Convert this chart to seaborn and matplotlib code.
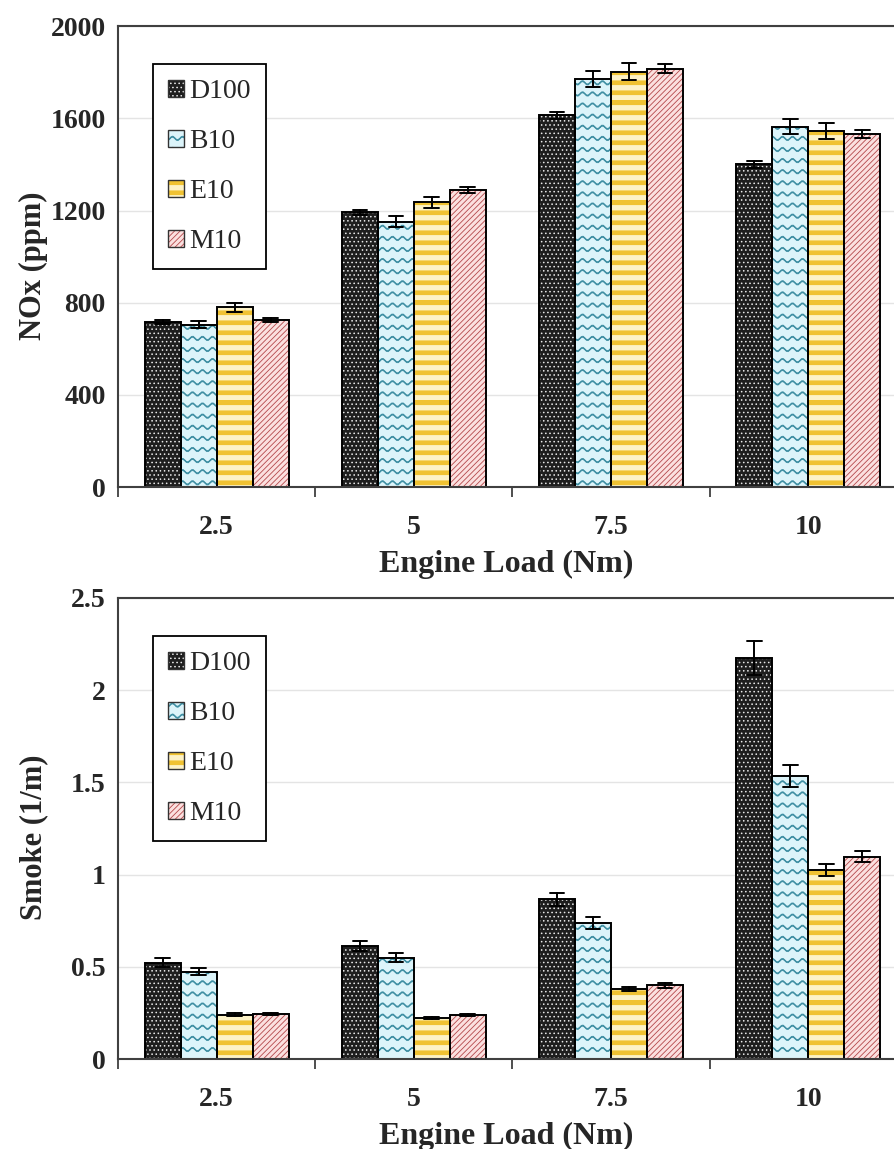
import numpy as np
import pandas as pd
import matplotlib
matplotlib.use("Agg")
import matplotlib.pyplot as plt
import matplotlib.hatch as mhatch
from matplotlib.path import Path
from matplotlib.patches import Patch
from matplotlib.legend_handler import HandlerTuple
from matplotlib.ticker import FixedLocator
import seaborn as sns

loads = ["2.5", "5", "7.5", "10"]
fuels = ["D100", "B10", "E10", "M10"]

# NOx (ppm) and error half-widths
nox_d100 = [715, 1192, 1614, 1400]
nox_b10 = [705, 1152, 1770, 1564]
nox_e10 = [780, 1235, 1803, 1545]
nox_m10 = [725, 1290, 1816, 1531]
nox_err_d100 = [8, 12, 15, 14]
nox_err_b10 = [15, 25, 34, 34]
nox_err_e10 = [20, 25, 35, 33]
nox_err_m10 = [8, 12, 18, 17]

# Smoke (1/m) and error half-widths
smoke_d100 = [0.522, 0.612, 0.866, 2.174]
smoke_b10 = [0.473, 0.549, 0.736, 1.536]
smoke_e10 = [0.241, 0.223, 0.380, 1.026]
smoke_m10 = [0.246, 0.239, 0.399, 1.098]
smoke_err_d100 = [0.024, 0.028, 0.036, 0.09]
smoke_err_b10 = [0.02, 0.024, 0.032, 0.06]
smoke_err_e10 = [0.006, 0.006, 0.013, 0.032]
smoke_err_m10 = [0.006, 0.006, 0.012, 0.032]

face_colors = {"D100": "#1e1e1e", "B10": "#dcf4fa", "E10": "#f0c232", "M10": "#fbe0df"}
hatch_colors = {"D100": "#e8e8e8", "B10": "#3f8fa3", "E10": "#fdf2c6", "M10": "#b4484b"}
hatches = {"D100": "....", "B10": "*", "E10": "O", "M10": "//////"}


# custom hatch patterns: '*' -> wavy lines, 'O' -> wide horizontal stripes
class WaveHatch(mhatch.HatchPatternBase):
    npts = 60

    def __init__(self, hatch, density):
        self.num_lines = hatch.count("*") * 9
        self.num_vertices = self.num_lines * (2 * self.npts + 1)

    def set_vertices_and_codes(self, vertices, codes):
        xs = np.linspace(0, 1, self.npts)
        wave = 0.018 * np.sin(2 * np.pi * 10 * xs)
        k = 2 * self.npts + 1
        for i in range(self.num_lines):
            y0 = (i + 0.5) / self.num_lines
            v = vertices[i * k:(i + 1) * k]
            c = codes[i * k:(i + 1) * k]
            v[:self.npts, 0] = xs
            v[:self.npts, 1] = y0 + wave
            v[self.npts:2 * self.npts, 0] = xs[::-1]
            v[self.npts:2 * self.npts, 1] = y0 + wave[::-1] + 0.010
            v[-1] = v[0]
            c[:] = Path.LINETO
            c[0] = Path.MOVETO
            c[-1] = Path.CLOSEPOLY


class StripeHatch(mhatch.HatchPatternBase):
    def __init__(self, hatch, density):
        self.num_lines = hatch.count("O") * 10
        self.num_vertices = self.num_lines * 5

    def set_vertices_and_codes(self, vertices, codes):
        for i in range(self.num_lines):
            y0 = i / self.num_lines
            y1 = y0 + 0.45 / self.num_lines
            vertices[i * 5:(i + 1) * 5] = [[0, y0], [1, y0], [1, y1], [0, y1], [0, y0]]
            codes[i * 5:(i + 1) * 5] = [Path.MOVETO, Path.LINETO, Path.LINETO,
                                        Path.LINETO, Path.CLOSEPOLY]


mhatch._hatch_types = [t for t in mhatch._hatch_types
                       if t not in (mhatch.Stars, mhatch.LargeCircles)] + [WaveHatch, StripeHatch]

sns.set_style("white")
plt.rcParams["font.family"] = ["Liberation Serif", "DejaVu Serif"]
plt.rcParams["hatch.linewidth"] = 0.6


def long_table(series, errors):
    rows = []
    for fuel, vals, errs in zip(fuels, series, errors):
        for load, v, e in zip(loads, vals, errs):
            rows.append({"load": load, "fuel": fuel, "value": v - e})
            rows.append({"load": load, "fuel": fuel, "value": v + e})
    return pd.DataFrame(rows)


def draw_panel(ax, df, ylim, yticks, ylabel):
    sns.barplot(data=df, x="load", y="value", hue="fuel", order=loads, hue_order=fuels,
                palette=face_colors, saturation=1, errorbar=None, width=0.73,
                linewidth=0, legend=False, ax=ax)
    for cont, fuel in zip(ax.containers, fuels):
        for bar in cont:
            bar.set_hatch(hatches[fuel])
            bar.set_edgecolor(hatch_colors[fuel])
            bar.set_linewidth(0)
    sns.barplot(data=df, x="load", y="value", hue="fuel", order=loads, hue_order=fuels,
                palette={f: "black" for f in fuels}, fill=False, width=0.73, linewidth=1.4,
                errorbar=lambda x: (x.min(), x.max()), capsize=0.3,
                err_kws={"color": "black", "linewidth": 1.4}, legend=False, ax=ax)

    ax.set_ylim(*ylim)
    ax.set_yticks(yticks)
    ax.set_yticklabels([f"{t:g}" for t in yticks])
    ax.set_xlim(-0.5, 3.44)
    ax.yaxis.grid(True, color="#e4e4e4", linewidth=1.0)
    ax.set_axisbelow(True)
    ax.xaxis.set_minor_locator(FixedLocator([-0.5, 0.5, 1.5, 2.5, 3.5]))
    ax.tick_params(axis="x", which="major", length=0, pad=20, labelsize=20)
    ax.tick_params(axis="x", which="minor", length=7, width=1.3, color="#404040",
                   direction="out", bottom=True)
    ax.tick_params(axis="y", length=0, pad=9, labelsize=20)
    for lab in ax.get_xticklabels() + ax.get_yticklabels():
        lab.set_fontweight("bold")
    for side in ["left", "bottom", "top"]:
        ax.spines[side].set_visible(True)
        ax.spines[side].set_color("#404040")
        ax.spines[side].set_linewidth(1.5)
    ax.spines["right"].set_visible(False)

    ax.set_xlabel("Engine Load (Nm)", fontsize=23, fontweight="bold", labelpad=7)
    ax.set_ylabel(ylabel, fontsize=22, fontweight="bold")
    ax.yaxis.set_label_coords(-0.09, 0.48)

    handles = []
    for fuel in fuels:
        fill = Patch(facecolor=face_colors[fuel], edgecolor=hatch_colors[fuel],
                     hatch=hatches[fuel], linewidth=0)
        outline = Patch(facecolor="none", edgecolor="#333333", linewidth=1.0)
        handles.append((fill, outline))
    leg = ax.legend(handles, fuels, handler_map={tuple: HandlerTuple(ndivide=1, pad=0)},
                    loc="upper left", bbox_to_anchor=(0.045, 0.918), fontsize=20,
                    handlelength=0.55, handleheight=0.55, handletextpad=0.2,
                    labelspacing=0.9, borderpad=0.55, borderaxespad=0,
                    fancybox=False, framealpha=1, edgecolor="black")
    leg.get_frame().set_linewidth(1.3)


fig = plt.figure(figsize=(8.95, 11.49), dpi=100)
ax_top = fig.add_axes([0.132, 0.576, 0.868, 0.4013])
ax_bot = fig.add_axes([0.132, 0.0783, 0.868, 0.4013])

nox_df = long_table([nox_d100, nox_b10, nox_e10, nox_m10],
                    [nox_err_d100, nox_err_b10, nox_err_e10, nox_err_m10])
smoke_df = long_table([smoke_d100, smoke_b10, smoke_e10, smoke_m10],
                      [smoke_err_d100, smoke_err_b10, smoke_err_e10, smoke_err_m10])

draw_panel(ax_top, nox_df, (0, 2000), [0, 400, 800, 1200, 1600, 2000], "NOx (ppm)")
draw_panel(ax_bot, smoke_df, (0, 2.5), [0, 0.5, 1, 1.5, 2, 2.5], "Smoke (1/m)")

fig.savefig("out.png", dpi=100)
